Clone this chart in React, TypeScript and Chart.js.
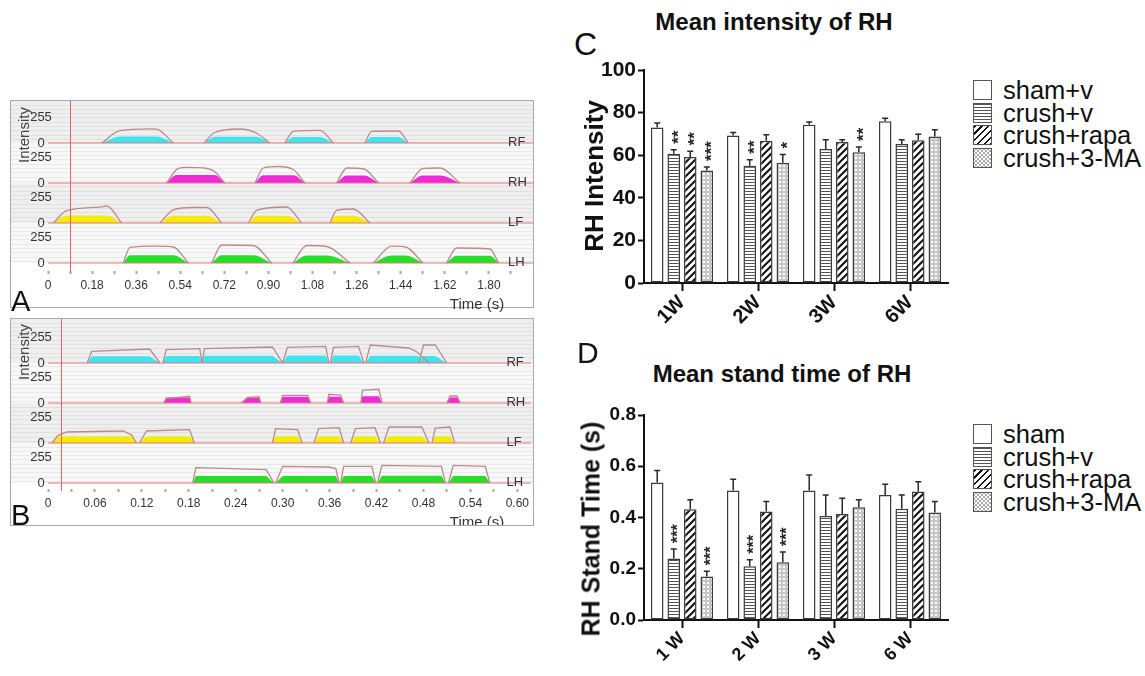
import React, { useEffect, useRef } from 'react';
import { Chart, registerables } from 'chart.js';
Chart.register(...registerables);

const SANS = '"Liberation Sans", Arial, Helvetica, sans-serif';

// ---------------- Panels A & B : paw intensity traces ----------------
const PAWS = ['RF', 'RH', 'LF', 'LH'];
const PAW_BASE = [1200, 800, 400, 0];
const PAW_FILL = ['#40e4f0', '#f02ad8', '#f4ec08', '#26e028'];
const INTENSITY_TICK = 255;

const A_TIME_LABELS = ['0', '0.18', '0.36', '0.54', '0.72', '0.90', '1.08', '1.26', '1.44', '1.62', '1.80'];
const A_TIME_STEP = 0.18;
const A_TIME_MAX = 1.98;
const A_CURSOR = 0.09;

// each contact: list of [time (s), intensity]
const A_RF = [
  [[0.219, 0], [0.294, 124], [0.42, 142], [0.444, 138], [0.512, 0]],
  [[0.637, 0], [0.68, 105], [0.784, 140], [0.85, 100], [0.906, 0]],
  [[0.967, 0], [1.001, 117], [1.11, 127], [1.165, 0]],
  [[1.294, 0], [1.321, 117], [1.43, 120], [1.471, 0]],
];
const A_RF_LEVEL = [64, 62, 60, 60];
const A_RH = [
  [[0.484, 0], [0.525, 135], [0.56, 157], [0.635, 152], [0.68, 115], [0.722, 0]],
  [[0.845, 0], [0.879, 150], [0.94, 165], [1.001, 135], [1.049, 0]],
  [[1.178, 0], [1.22, 150], [1.29, 140], [1.349, 0]],
  [[1.478, 0], [1.53, 145], [1.6, 150], [1.682, 0]],
];
const A_RH_LEVEL = [80, 78, 75, 75];
const A_LF = [
  [[0.022, 0], [0.076, 124], [0.212, 159], [0.24, 170], [0.301, 0]],
  [[0.457, 0], [0.512, 132], [0.593, 155], [0.648, 155], [0.709, 0]],
  [[0.818, 0], [0.852, 127], [0.974, 160], [1.035, 0]],
  [[1.151, 0], [1.178, 127], [1.246, 140], [1.314, 0]],
];
const A_LF_LEVEL = [75, 73, 73, 72];
const A_LH = [
  [[0.307, 0], [0.335, 156], [0.444, 169], [0.512, 160], [0.573, 0]],
  [[0.668, 0], [0.709, 180], [0.838, 175], [0.913, 0]],
  [[1.0, 0], [1.056, 175], [1.137, 165], [1.233, 0]],
  [[1.328, 0], [1.403, 168], [1.46, 160], [1.531, 0]],
  [[1.627, 0], [1.668, 150], [1.804, 140], [1.84, 0]],
];
const A_LH_LEVEL = [77, 77, 75, 75, 72];

const B_TIME_LABELS = ['0', '0.06', '0.12', '0.18', '0.24', '0.30', '0.36', '0.42', '0.48', '0.54', '0.60'];
const B_TIME_STEP = 0.06;
const B_TIME_MAX = 0.618;
const B_CURSOR = 0.017;

const B_RF = [
  [[0.05, 0], [0.056, 117], [0.13, 140], [0.143, 0]],
  [[0.147, 0], [0.151, 133], [0.194, 143], [0.197, 0]],
  [[0.197, 0], [0.2, 143], [0.287, 160], [0.3, 0]],
  [[0.3, 0], [0.306, 157], [0.355, 167], [0.359, 0]],
  [[0.361, 0], [0.365, 157], [0.397, 167], [0.404, 0]],
  [[0.406, 0], [0.412, 180], [0.461, 150], [0.472, 110], [0.487, 0]],
  [[0.474, 0], [0.48, 180], [0.495, 180], [0.51, 0]],
];
const B_RF_LEVEL = [67, 70, 72, 75, 75, 72, 70];
const B_RH = [
  [[0.148, 0], [0.151, 45], [0.181, 67], [0.183, 0]],
  [[0.247, 0], [0.255, 55], [0.27, 62], [0.272, 0]],
  [[0.297, 0], [0.3, 77], [0.332, 77], [0.336, 0]],
  [[0.357, 0], [0.359, 87], [0.374, 80], [0.378, 0]],
  [[0.4, 0], [0.402, 127], [0.423, 137], [0.427, 0]],
  [[0.51, 0], [0.514, 70], [0.523, 70], [0.527, 0]],
];
const B_RH_LEVEL = [55, 50, 62, 62, 67, 55];
const B_LF = [
  [[0.005, 0], [0.013, 77], [0.024, 110], [0.096, 120], [0.107, 80], [0.113, 0]],
  [[0.117, 0], [0.126, 120], [0.181, 133], [0.187, 0]],
  [[0.287, 0], [0.291, 143], [0.319, 133], [0.325, 0]],
  [[0.34, 0], [0.346, 143], [0.372, 153], [0.378, 0]],
  [[0.387, 0], [0.393, 143], [0.418, 153], [0.425, 0]],
  [[0.429, 0], [0.436, 160], [0.478, 160], [0.487, 0]],
  [[0.491, 0], [0.495, 150], [0.514, 160], [0.52, 0]],
];
const B_LF_LEVEL = [67, 67, 67, 67, 67, 67, 67];
const B_LH = [
  [[0.185, 0], [0.189, 153], [0.279, 133], [0.289, 0]],
  [[0.291, 0], [0.3, 167], [0.359, 160], [0.368, 145], [0.372, 0]],
  [[0.374, 0], [0.378, 167], [0.414, 167], [0.419, 0]],
  [[0.421, 0], [0.427, 177], [0.503, 167], [0.508, 0]],
  [[0.512, 0], [0.518, 177], [0.559, 167], [0.565, 0]],
];
const B_LH_LEVEL = [70, 70, 70, 72, 70];

// ---------------- Panels C & D : bar charts ----------------
const C_WEEKS = ['1W', '2W', '3W', '6W'];
const C_NAMES = ['sham+v', 'crush+v', 'crush+rapa', 'crush+3-MA'];
const C_SHAM = [73.0, 69.2, 74.3, 75.9];
const C_SHAM_ERR = [2.1, 1.5, 1.3, 1.5];
const C_CRUSH = [60.7, 55.1, 62.9, 65.3];
const C_CRUSH_ERR = [1.9, 2.8, 4.4, 2.0];
const C_RAPA = [59.2, 66.8, 66.2, 67.0];
const C_RAPA_ERR = [2.6, 2.8, 1.1, 2.8];
const C_3MA = [52.8, 56.4, 61.4, 68.8];
const C_3MA_ERR = [1.7, 3.9, 2.5, 3.2];
const C_STARS = [
  ['', '', '', ''],
  ['**', '**', '', ''],
  ['**', '', '', ''],
  ['***', '*', '**', ''],
];
const C_TICKS = [0, 20, 40, 60, 80, 100];

const D_WEEKS = ['1 W', '2 W', '3 W', '6 W'];
const D_NAMES = ['sham', 'crush+v', 'crush+rapa', 'crush+3-MA'];
const D_SHAM = [0.537, 0.505, 0.505, 0.488];
const D_SHAM_ERR = [0.046, 0.044, 0.061, 0.042];
const D_CRUSH = [0.24, 0.21, 0.406, 0.434];
const D_CRUSH_ERR = [0.037, 0.025, 0.082, 0.054];
const D_RAPA = [0.432, 0.423, 0.414, 0.501];
const D_RAPA_ERR = [0.037, 0.039, 0.061, 0.039];
const D_3MA = [0.17, 0.225, 0.44, 0.42];
const D_3MA_ERR = [0.02, 0.04, 0.029, 0.042];
const D_STARS = [
  ['', '', '', ''],
  ['***', '***', '', ''],
  ['', '', '', ''],
  ['***', '***', '', ''],
];
const D_TICKS = [0, 0.2, 0.4, 0.6, 0.8];

// -------------------------------------------------------------------
type Contact = number[][];

function toPoints(base: number, contacts: Contact[], levels: number[] | null) {
  const pts: any[] = [];
  contacts.forEach((c, ci) => {
    c.forEach(([t, h], i) => {
      const v = levels ? (i === 0 || i === c.length - 1 ? 0 : levels[ci]) : h;
      pts.push({ x: t, y: base + v });
    });
    pts.push({ x: c[c.length - 1][0], y: null });
  });
  return pts;
}

function TracePanel(props: {
  outlines: Contact[][]; levels: number[][]; labels: string[]; step: number; tMax: number;
  cursor: number; yMin: number; yMax: number; smooth: boolean; w: number; h: number;
}) {
  const ref = useRef<HTMLCanvasElement>(null);
  useEffect(() => {
    const { outlines, levels, labels, step, tMax, cursor, yMin, yMax, smooth } = props;
    const datasets: any[] = [];
    outlines.forEach((contacts, p) => {
      datasets.push({
        data: toPoints(PAW_BASE[p], contacts, null), borderColor: '#bd8a8a', borderWidth: 1.3,
        pointRadius: 0, fill: false, spanGaps: false,
        cubicInterpolationMode: smooth ? 'monotone' : 'default', tension: 0,
      });
    });
    PAW_BASE.forEach((b) => {
      datasets.push({
        data: [{ x: 0, y: b }, { x: tMax, y: b }], borderColor: '#e27676', borderWidth: 1.2,
        pointRadius: 0, fill: false,
      });
    });
    outlines.forEach((contacts, p) => {
      datasets.push({
        data: toPoints(PAW_BASE[p], contacts, levels[p]), borderWidth: 0, borderColor: 'rgba(0,0,0,0)',
        backgroundColor: PAW_FILL[p], pointRadius: 0, fill: { value: PAW_BASE[p] }, spanGaps: false,
        cubicInterpolationMode: smooth ? 'monotone' : 'default', tension: 0,
      });
    });
    const xTicks: number[] = [];
    labels.forEach((_, i) => {
      xTicks.push(i * step);
      if (i * step + step / 2 < tMax) xTicks.push(i * step + step / 2);
    });
    const yTicks: number[] = [];
    PAW_BASE.forEach((b) => { yTicks.push(b, b + INTENSITY_TICK); });
    yTicks.sort((a, b) => a - b);

    const bands = {
      id: 'bands',
      beforeDraw(chart: any) {
        const { ctx, scales: { y } } = chart;
        ctx.save();
        PAW_BASE.forEach((b, i) => {
          const top = i === 0 ? 0 : y.getPixelForValue(PAW_BASE[i - 1]);
          const bot = y.getPixelForValue(b);
          ctx.fillStyle = i % 2 === 0 ? '#efefef' : '#f8f8f8';
          ctx.fillRect(0, top, chart.width, bot - top);
          ctx.strokeStyle = i % 2 === 0 ? '#e0e0e0' : '#e9e9e9';
          ctx.lineWidth = 1;
          for (let yy = top + 3.5; yy < bot - 2; yy += 4.3) {
            ctx.beginPath();
            ctx.moveTo(0, Math.round(yy) + 0.5);
            ctx.lineTo(chart.width, Math.round(yy) + 0.5);
            ctx.stroke();
          }
        });
        ctx.restore();
      },
    };
    const overlay = {
      id: 'overlay',
      afterDatasetsDraw(chart: any) {
        const { ctx, chartArea: ca, scales: { x, y } } = chart;
        ctx.save();
        const cx = Math.round(x.getPixelForValue(cursor)) + 0.5;
        ctx.strokeStyle = '#e06464';
        ctx.lineWidth = 1;
        ctx.beginPath();
        ctx.moveTo(cx, 0);
        ctx.lineTo(cx, ca.bottom + 2);
        ctx.stroke();
        ctx.fillStyle = '#333';
        ctx.font = `13px ${SANS}`;
        ctx.textAlign = 'left';
        ctx.textBaseline = 'middle';
        PAWS.forEach((p, i) => {
          ctx.fillText(p, ca.right - 25, y.getPixelForValue(PAW_BASE[i]) - 1);
        });
        // intensity tick labels taken from the y axis ticks
        ctx.textAlign = 'center';
        y.ticks.forEach((t: any) => {
          const txt = PAW_BASE.includes(t.value) ? '0' : String(INTENSITY_TICK);
          ctx.fillText(txt, ca.left - 7, y.getPixelForValue(t.value));
        });
        ctx.restore();
      },
    };

    const chart = new Chart(ref.current!, {
      type: 'line',
      data: { datasets },
      plugins: [bands, overlay],
      options: {
        responsive: false, animation: false, events: [],
        layout: { padding: 0 },
        plugins: { legend: { display: false }, tooltip: { enabled: false } },
        scales: {
          x: {
            type: 'linear', min: 0, max: tMax,
            afterFit: (s: any) => { s.height = 36; },
            afterBuildTicks: (s: any) => { s.ticks = xTicks.map((v) => ({ value: v })); },
            grid: { drawOnChartArea: false, drawTicks: true, tickLength: 3, tickWidth: 2, tickColor: '#a8a8a8' },
            border: { display: false },
            ticks: {
              autoSkip: false, maxRotation: 0, minRotation: 0, padding: 4, color: '#333',
              font: { family: SANS, size: 12 },
              callback: (_v: any, i: number) => (i % 2 === 0 ? labels[i / 2] : ''),
            },
          },
          y: {
            type: 'linear', min: yMin, max: yMax,
            afterFit: (s: any) => { s.width = 37; },
            afterBuildTicks: (s: any) => { s.ticks = yTicks.map((v) => ({ value: v })); },
            grid: { display: false, drawTicks: false },
            border: { display: false },
            ticks: { display: false },
          },
        },
      } as any,
    });
    return () => chart.destroy();
  }, []);
  return <canvas ref={ref} width={props.w} height={props.h} style={{ position: 'absolute', left: 0, top: 0 }} />;
}

function makePattern(kind: string) {
  const c = document.createElement('canvas');
  const g = c.getContext('2d')!;
  if (kind === 'h') {
    c.width = 4; c.height = 3;
    g.fillStyle = '#fff'; g.fillRect(0, 0, 4, 3);
    g.fillStyle = '#555'; g.fillRect(0, 0, 4, 1);
  } else if (kind === 'd') {
    c.width = 7; c.height = 7;
    g.fillStyle = '#fff'; g.fillRect(0, 0, 7, 7);
    g.strokeStyle = '#111'; g.lineWidth = 2;
    g.beginPath();
    g.moveTo(-1, 8); g.lineTo(8, -1);
    g.moveTo(-1, 1); g.lineTo(1, -1);
    g.moveTo(6, 8); g.lineTo(8, 6);
    g.stroke();
  } else if (kind === 'o') {
    c.width = 4; c.height = 4;
    g.fillStyle = '#fff'; g.fillRect(0, 0, 4, 4);
    g.strokeStyle = '#8c8c8c'; g.lineWidth = 0.8;
    g.beginPath(); g.arc(2, 2, 1.3, 0, Math.PI * 2); g.stroke();
  } else {
    c.width = 2; c.height = 2;
    g.fillStyle = '#fff'; g.fillRect(0, 0, 2, 2);
  }
  return g.createPattern(c, 'repeat');
}

const KINDS = ['w', 'h', 'd', 'o'];

function BarPanel(props: {
  cats: string[]; names: string[]; values: number[][]; errs: number[][]; stars: string[][];
  yMax: number; ticks: number[]; fmt: (v: number) => string;
  tickSize: number; catSize: number; starSize: number; yw: number; xh: number;
  padTop: number; w: number; h: number;
}) {
  const ref = useRef<HTMLCanvasElement>(null);
  useEffect(() => {
    const { cats, names, values, errs, stars, yMax, ticks, fmt } = props;
    const datasets = names.map((n, i) => ({
      label: n, data: values[i], backgroundColor: makePattern(KINDS[i]) as any,
      borderColor: '#3c3c3c', borderWidth: 1.5, borderSkipped: false,
      categoryPercentage: 0.87, barPercentage: 0.76,
    }));
    const errPlugin = {
      id: 'errs',
      afterDatasetsDraw(chart: any) {
        const { ctx, scales: { y } } = chart;
        ctx.save();
        values.forEach((vals, i) => {
          const meta = chart.getDatasetMeta(i);
          meta.data.forEach((bar: any, j: number) => {
            const top = y.getPixelForValue(vals[j] + errs[i][j]);
            ctx.strokeStyle = '#2a2a2a';
            ctx.lineWidth = 1.5;
            ctx.beginPath();
            ctx.moveTo(bar.x, bar.y);
            ctx.lineTo(bar.x, top);
            ctx.moveTo(bar.x - 3, top);
            ctx.lineTo(bar.x + 3, top);
            ctx.stroke();
            const s = stars[i][j];
            if (s) {
              ctx.save();
              ctx.translate(bar.x, top - 6);
              ctx.rotate(-Math.PI / 2);
              ctx.fillStyle = '#222';
              ctx.font = `bold ${props.starSize}px ${SANS}`;
              ctx.textAlign = 'left';
              ctx.textBaseline = 'alphabetic';
              ctx.fillText(s, 0, 0.575 * props.starSize);
              ctx.restore();
            }
          });
        });
        ctx.restore();
      },
    };
    const chart = new Chart(ref.current!, {
      type: 'bar',
      data: { labels: cats, datasets },
      plugins: [errPlugin],
      options: {
        responsive: false, animation: false, events: [],
        layout: { padding: { left: 0, right: 12, top: props.padTop, bottom: 0 } },
        plugins: { legend: { display: false }, tooltip: { enabled: false } },
        scales: {
          x: {
            afterFit: (s: any) => { s.height = props.xh; },
            grid: { offset: false, drawOnChartArea: false, drawTicks: true, tickLength: 8, tickWidth: 2, tickColor: '#111' },
            border: { display: true, color: '#111', width: 2 },
            ticks: {
              color: '#111', autoSkip: false, maxRotation: 45, minRotation: 45, padding: 0,
              font: { family: SANS, size: props.catSize, weight: 'bold' },
            },
          },
          y: {
            min: 0, max: yMax,
            afterFit: (s: any) => { s.width = props.yw; },
            afterBuildTicks: (s: any) => { s.ticks = ticks.map((v) => ({ value: v })); },
            grid: { drawOnChartArea: false, drawTicks: true, tickLength: 6, tickWidth: 2, tickColor: '#111' },
            border: { display: true, color: '#111', width: 2 },
            ticks: {
              color: '#111', padding: 2, font: { family: SANS, size: props.tickSize, weight: 'bold' },
              callback: (v: any) => fmt(v),
            },
          },
        },
      } as any,
    });
    return () => chart.destroy();
  }, []);
  return <canvas ref={ref} width={props.w} height={props.h} style={{ position: 'absolute', left: 0, top: 0 }} />;
}

const SWATCH: Record<string, string> = {
  w: '#fff',
  h: 'repeating-linear-gradient(to bottom, #555 0px, #555 1px, #fff 1px, #fff 3px)',
  d: 'repeating-linear-gradient(135deg, #111 0px, #111 1.6px, #fff 1.6px, #fff 4.8px)',
  o: 'radial-gradient(circle, #fff 0.7px, #8c8c8c 1px, #8c8c8c 1.5px, #fff 1.8px) 0 0 / 4px 4px, #fff',
};

function Legend({ names, left, top }: { names: string[]; left: number; top: number }) {
  return (
    <div style={{ position: 'absolute', left, top }}>
      {names.map((n, i) => (
        <div key={n} style={{ display: 'flex', alignItems: 'center', height: 22.5 }}>
          <div style={{ width: 19, height: 20, boxSizing: 'border-box', border: '1.5px solid #555', background: SWATCH[KINDS[i]] }} />
          <div style={{ marginLeft: 11, fontSize: 25.5, lineHeight: '22.5px', color: '#111', whiteSpace: 'nowrap' }}>{n}</div>
        </div>
      ))}
    </div>
  );
}

function Abs({ left, top, size, weight, children, center, rotate, color }: any) {
  const style: any = {
    position: 'absolute', left, top, fontSize: size, fontWeight: weight || 'normal', lineHeight: 1,
    whiteSpace: 'nowrap', color: color || '#111',
  };
  if (center) style.transform = 'translate(-50%, 0)';
  if (rotate) style.transform = 'translate(-50%, -50%) rotate(-90deg)';
  return <div style={style}>{children}</div>;
}

export default function App() {
  return (
    <div style={{ position: 'absolute', left: 0, top: 0, width: 1145, height: 676, background: '#fff', overflow: 'hidden', fontFamily: SANS }}>
      {/* Panel A */}
      <div style={{ position: 'absolute', left: 10, top: 100, width: 524, height: 208, boxSizing: 'border-box', border: '1px solid #a9a9a9', overflow: 'hidden' }}>
        <TracePanel outlines={[A_RF, A_RH, A_LF, A_LH]} levels={[A_RF_LEVEL, A_RH_LEVEL, A_LF_LEVEL, A_LH_LEVEL]}
          labels={A_TIME_LABELS} step={A_TIME_STEP} tMax={A_TIME_MAX} cursor={A_CURSOR} yMin={-80} yMax={1620} smooth={true} w={522} h={206} />
      </div>
      <Abs left={23} top={135} size={15} rotate color="#444">Intensity</Abs>
      <Abs left={477} top={296} size={15} center color="#333">Time (s)</Abs>
      <Abs left={11} top={287} size={29}>A</Abs>

      {/* Panel B */}
      <div style={{ position: 'absolute', left: 10, top: 318, width: 524, height: 208, boxSizing: 'border-box', border: '1px solid #a9a9a9', overflow: 'hidden' }}>
        <TracePanel outlines={[B_RF, B_RH, B_LF, B_LH]} levels={[B_RF_LEVEL, B_RH_LEVEL, B_LF_LEVEL, B_LH_LEVEL]}
          labels={B_TIME_LABELS} step={B_TIME_STEP} tMax={B_TIME_MAX} cursor={B_CURSOR} yMin={-60} yMax={1640} smooth={false} w={522} h={206} />
        <div style={{ position: 'absolute', left: 466, top: 195, transform: 'translate(-50%,0)', fontSize: 15, lineHeight: 1, color: '#333', whiteSpace: 'nowrap' }}>Time (s)</div>
      </div>
      <Abs left={23} top={352} size={15} rotate color="#444">Intensity</Abs>
      <Abs left={11} top={501} size={29}>B</Abs>

      {/* Panel C */}
      <Abs left={574} top={28} size={32}>C</Abs>
      <Abs left={774} top={10} size={24} weight="bold" center>Mean intensity of RH</Abs>
      <div style={{ position: 'absolute', left: 560, top: 50, width: 400, height: 300 }}>
        <BarPanel cats={C_WEEKS} names={C_NAMES} values={[C_SHAM, C_CRUSH, C_RAPA, C_3MA]}
          errs={[C_SHAM_ERR, C_CRUSH_ERR, C_RAPA_ERR, C_3MA_ERR]} stars={C_STARS}
          yMax={100} ticks={C_TICKS} fmt={(v) => String(v)}
          tickSize={21} catSize={20} starSize={17} yw={84} xh={67} padTop={20} w={400} h={300} />
      </div>
      <Abs left={594} top={176} size={26} weight="bold" rotate>RH Intensity</Abs>
      <Legend names={C_NAMES} left={973} top={79} />

      {/* Panel D */}
      <Abs left={577} top={338} size={30}>D</Abs>
      <Abs left={782} top={362} size={24} weight="bold" center>Mean stand time of RH</Abs>
      <div style={{ position: 'absolute', left: 560, top: 395, width: 400, height: 281 }}>
        <BarPanel cats={D_WEEKS} names={D_NAMES} values={[D_SHAM, D_CRUSH, D_RAPA, D_3MA]}
          errs={[D_SHAM_ERR, D_CRUSH_ERR, D_RAPA_ERR, D_3MA_ERR]} stars={D_STARS}
          yMax={0.8} ticks={D_TICKS} fmt={(v) => v.toFixed(1)}
          tickSize={19} catSize={18} starSize={16} yw={84} xh={56} padTop={20} w={400} h={281} />
      </div>
      <Abs left={591} top={529} size={25} weight="bold" rotate>RH Stand Time (s)</Abs>
      <Legend names={D_NAMES} left={973} top={423} />
    </div>
  );
}
